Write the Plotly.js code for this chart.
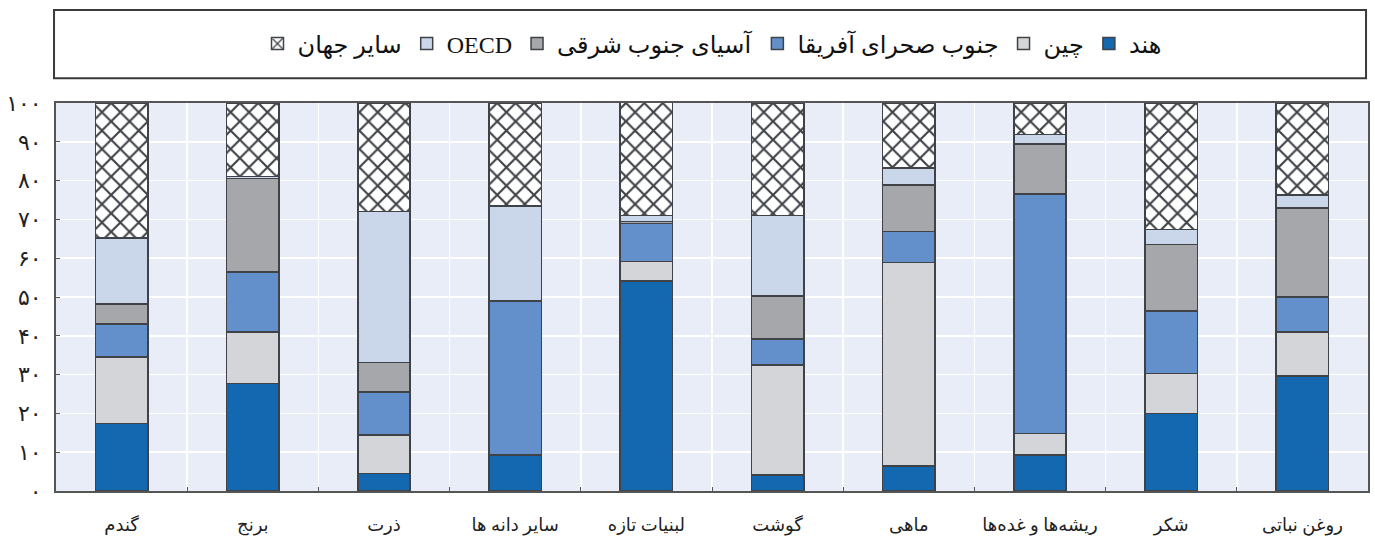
<!DOCTYPE html>
<html>
<head>
<meta charset="utf-8">
<script src="https://cdn.plot.ly/plotly-3.0.1.min.js"></script>
<style>html,body{margin:0;padding:0;background:#fff;}#chart{width:1375px;height:552px;}</style>
</head>
<body>
<div id="chart"></div>
<script>
const categories = ["گندم", "برنج", "ذرت", "سایر دانه ها", "لبنیات تازه", "گوشت", "ماهی", "ریشه‌ها و غده‌ها", "شکر", "روغن نباتی"];
const india = [17.4, 27.7, 4.5, 9.1, 54.1, 4.1, 6.5, 9.3, 20.0, 29.6];
const china = [17.1, 13.3, 9.9, 0.2, 5.1, 28.4, 52.4, 5.5, 10.3, 11.4];
const subSaharanAfrica = [8.6, 15.4, 11.1, 39.6, 9.8, 6.7, 8.0, 61.7, 16.1, 9.0];
const southeastAsia = [5.1, 24.2, 7.6, 0.2, 0.5, 11.0, 12.0, 12.9, 17.1, 22.9];
const oecd = [17.0, 0.5, 39.0, 24.4, 1.5, 20.8, 4.3, 2.5, 3.9, 3.4];
const restOfWorld = [34.8, 18.9, 27.9, 26.5, 29.1, 29.0, 16.8, 8.1, 32.6, 23.7];
const yTickVals = [0, 10, 20, 30, 40, 50, 60, 70, 80, 90, 100];
const yTickText = ["۰", "۱۰", "۲۰", "۳۰", "۴۰", "۵۰", "۶۰", "۷۰", "۸۰", "۹۰", "۱۰۰"];
const seriesNames = ["هند", "چین", "جنوب صحرای آفریقا", "آسیای جنوب شرقی", "OECD", "سایر جهان"];

const fontFam = "Liberation Serif, DejaVu Sans, serif";
const outline = {color: "#3f4247", width: 1.5};
function mk(name, y, color, pattern) {
  const m = {color: color, line: outline};
  if (pattern) m.pattern = pattern;
  return {type: "bar", name: name, x: categories, y: y, marker: m, width: 0.4, hoverinfo: "y+name"};
}
const data = [
  mk(seriesNames[0], india, "#1368b0"),
  mk(seriesNames[1], china, "#d4d5d8"),
  mk(seriesNames[2], subSaharanAfrica, "#6390cb"),
  mk(seriesNames[3], southeastAsia, "#a6a7ab"),
  mk(seriesNames[4], oecd, "#cad6ea"),
  mk(seriesNames[5], restOfWorld, "#ffffff", {shape: "x", fgcolor: "#3f4247", bgcolor: "#ffffff", size: 13, solidity: 0.3})
];

const layout = {
  width: 1375, height: 552,
  margin: {l: 56, r: 7, t: 103, b: 61},
  paper_bgcolor: "#ffffff",
  plot_bgcolor: "#e9edf7",
  barmode: "stack",
  bargap: 0.6,
  font: {family: fontFam, size: 16, color: "#222"},
  showlegend: true,
  legend: {
    orientation: "h", traceorder: "reversed",
    x: 0.5, xanchor: "center", y: 1.152, yanchor: "middle",
    font: {family: fontFam, size: 24, color: "#111"},
    itemwidth: 30, bgcolor: "rgba(0,0,0,0)", borderwidth: 0
  },
  xaxis: {
    type: "category",
    tickson: "boundaries",
    ticks: "inside", ticklen: 4, tickcolor: "#555",
    showgrid: true, gridcolor: "#ffffff", gridwidth: 1.5,
    showline: true, linecolor: "#555", linewidth: 2, mirror: true,
    tickfont: {family: fontFam, size: 18, color: "#222"},
    ticklabelstandoff: 16,
    range: [-0.5, 9.5], fixedrange: true
  },
  yaxis: {
    range: [0, 100],
    tickvals: yTickVals, ticktext: yTickText,
    ticks: "inside", ticklen: 4, tickcolor: "#555",
    showgrid: true, gridcolor: "#ffffff", gridwidth: 1.5,
    showline: true, linecolor: "#555", linewidth: 2, mirror: true,
    zeroline: false,
    tickfont: {family: "DejaVu Sans, sans-serif", size: 22, color: "#222"},
    ticklabelstandoff: 8,
    fixedrange: true
  },
  shapes: [
    {type: "rect", xref: "paper", yref: "paper", x0: -0.0015, x1: 0.9985, y0: 1.064, y1: 1.240,
     line: {color: "#3a3a3a", width: 2}, fillcolor: "rgba(0,0,0,0)"}
  ]
};

Plotly.newPlot("chart", data, layout, {displayModeBar: false, staticPlot: true});
</script>
</body>
</html>
